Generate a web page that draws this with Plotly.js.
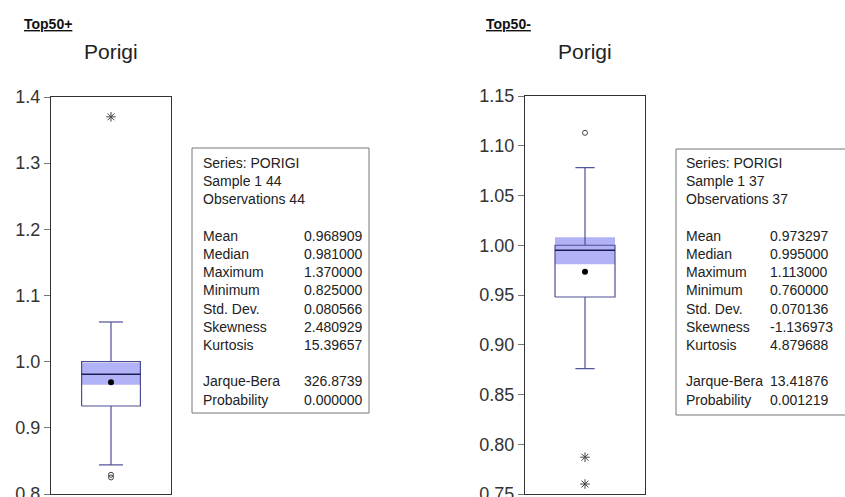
<!DOCTYPE html>
<html>
<head>
<meta charset="utf-8">
<script src="https://cdn.plot.ly/plotly-3.0.1.min.js"></script>
<style>
  html, body { margin: 0; padding: 0; background: #fff; }
  #chart { width: 845px; height: 497px; }
</style>
</head>
<body>
<div id="chart"></div>
<script>
// Box-plot summaries of PORIGI for the two groups
const groups = ["Top50+", "Top50-"];
const seriesName = "Porigi";

// [lowerWhisker, q1, median, q3, upperWhisker]
const boxTop = [0.844, 0.933, 0.981, 1.000, 1.060];
const boxBottom = [0.876, 0.948, 0.995, 1.000, 1.078];
// shaded median band [low, high]
const bandTop = [0.965, 0.998];
const bandBottom = [0.981, 1.008];
const meanTop = 0.968909;
const meanBottom = 0.973297;
// near outliers (circles) and far outliers (asterisks)
const nearTop = [0.825, 0.829];
const farTop = [1.370];
const nearBottom = [1.113];
const farBottom = [0.787, 0.760];

// descriptive statistics tables
const statHeader = ["Series: PORIGI", "Sample 1 44", "Observations 44"];
const statHeader2 = ["Series: PORIGI", "Sample 1 37", "Observations 37"];
const statLabels = ["Mean", "Median", "Maximum", "Minimum", "Std. Dev.", "Skewness", "Kurtosis", "", "Jarque-Bera", "Probability"];
const statsTop = ["0.968909", "0.981000", "1.370000", "0.825000", "0.080566", "2.480929", "15.39657", "", "326.8739", "0.000000"];
const statsBottom = ["0.973297", "0.995000", "1.113000", "0.760000", "0.070136", "-1.136973", "4.879688", "", "13.41876", "0.001219"];

const W = 845, H = 497;
const px = x => x / W;
const py = y => 1 - y / H;

const outline = "rgb(78,78,150)";
const medianCol = "rgb(28,28,80)";
const bandCol = "rgb(178,178,246)";
const markCol = "#444";

function boxTraces(b, band, mean, near, far, xa, ya, half, cap) {
  const [lw, q1, med, q3, uw] = b;
  const base = { xaxis: xa, yaxis: ya, hoverinfo: "skip", showlegend: false };
  return [
    Object.assign({}, base, { type: "scatter", mode: "lines",
      x: [-half, half, half, -half, -half], y: [band[0], band[0], band[1], band[1], band[0]],
      fill: "toself", fillcolor: bandCol, line: { width: 0 } }),
    Object.assign({}, base, { type: "scatter", mode: "lines",
      x: [-half, half, half, -half, -half], y: [q1, q1, q3, q3, q1],
      line: { color: outline, width: 1.2 } }),
    Object.assign({}, base, { type: "scatter", mode: "lines",
      x: [-half, half], y: [med, med], line: { color: medianCol, width: 1.3 } }),
    Object.assign({}, base, { type: "scatter", mode: "lines",
      x: [0, 0, null, -cap, cap, null, 0, 0, null, -cap, cap],
      y: [q3, uw, null, uw, uw, null, q1, lw, null, lw, lw],
      line: { color: outline, width: 1.2 } }),
    Object.assign({}, base, { type: "scatter", mode: "markers",
      x: [0], y: [mean], marker: { color: "#000", size: 6, symbol: "circle" } }),
    Object.assign({}, base, { type: "scatter", mode: "markers",
      x: near.map(() => 0), y: near,
      marker: { color: markCol, size: 5, symbol: "circle-open", line: { color: markCol, width: 1 } } }),
    Object.assign({}, base, { type: "scatter", mode: "markers",
      x: far.map(() => 0), y: far,
      marker: { color: markCol, size: 8, symbol: "asterisk-open", line: { color: markCol, width: 1 } } })
  ];
}

const traces = [
  ...boxTraces(boxTop, bandTop, meanTop, nearTop, farTop, "x", "y", 0.49, 0.2),
  ...boxTraces(boxBottom, bandBottom, meanBottom, nearBottom, farBottom, "x2", "y2", 0.5, 0.16)
];

const tickFont = { family: "Liberation Sans, Arial, sans-serif", size: 18, color: "#333" };
const xBase = { range: [-1, 1], showticklabels: false, ticks: "", showgrid: false, zeroline: false,
  showline: true, mirror: true, linecolor: "#333", linewidth: 1, fixedrange: true };
const yBase = { showgrid: false, zeroline: false, showline: true, mirror: true, linecolor: "#333",
  linewidth: 1, ticks: "outside", ticklen: 6, tickcolor: "#777", tickfont: tickFont,
  ticklabeloverflow: "allow", fixedrange: true };

const statFont = { family: "Liberation Sans, Arial, sans-serif", size: 14, color: "#222" };
const annotations = [];
function addText(text, x, y, font, anchor) {
  annotations.push({ xref: "paper", yref: "paper", x: px(x), y: py(y), text: text,
    showarrow: false, xanchor: anchor || "left", yanchor: "middle", font: font });
}
function addStats(header, values, xl, xv) {
  const y0 = 163, step = 18.2;
  header.forEach((t, i) => addText(t, xl, y0 + i * step, statFont));
  statLabels.forEach((t, i) => {
    if (t) {
      addText(t, xl, y0 + (i + 4) * step, statFont);
      addText(values[i], xv, y0 + (i + 4) * step, statFont);
    }
  });
}
addStats(statHeader, statsTop, 201, 302);
addStats(statHeader2, statsBottom, 684, 768);

const groupFont = { family: "Liberation Sans, Arial, sans-serif", size: 14, color: "#111" };
const titleFont = { family: "Liberation Sans, Arial, sans-serif", size: 21, color: "#222" };
addText("<b><u>" + groups[0] + "</u></b>", 22, 24, groupFont);
addText("<b><u>" + groups[1] + "</u></b>", 484, 24, groupFont);
addText(seriesName, 111, 51, titleFont, "center");
addText(seriesName, 585, 51, titleFont, "center");

const layout = {
  width: W, height: H,
  margin: { l: 0, r: 0, t: 0, b: 0, pad: 0 },
  paper_bgcolor: "#fff", plot_bgcolor: "#fff",
  showlegend: false,
  xaxis: Object.assign({}, xBase, { domain: [px(51), px(171)], anchor: "y" }),
  yaxis: Object.assign({}, yBase, { domain: [py(494), py(97)], range: [0.8, 1.4], dtick: 0.1,
    tick0: 0.8, tickformat: ".1f", anchor: "x" }),
  xaxis2: Object.assign({}, xBase, { domain: [px(525), px(645)], anchor: "y2" }),
  yaxis2: Object.assign({}, yBase, { domain: [py(494), py(96)], range: [0.75, 1.15], dtick: 0.05,
    tick0: 0.75, tickformat: ".2f", anchor: "x2" }),
  shapes: [
    { type: "rect", xref: "paper", yref: "paper", x0: px(192), x1: px(369), y0: py(413), y1: py(148),
      line: { color: "#777", width: 1 }, fillcolor: "rgba(0,0,0,0)" },
    { type: "rect", xref: "paper", yref: "paper", x0: px(676), x1: px(860), y0: py(415), y1: py(149),
      line: { color: "#777", width: 1 }, fillcolor: "rgba(0,0,0,0)" }
  ],
  annotations: annotations
};

Plotly.newPlot("chart", traces, layout, { staticPlot: true, displayModeBar: false });
</script>
</body>
</html>
